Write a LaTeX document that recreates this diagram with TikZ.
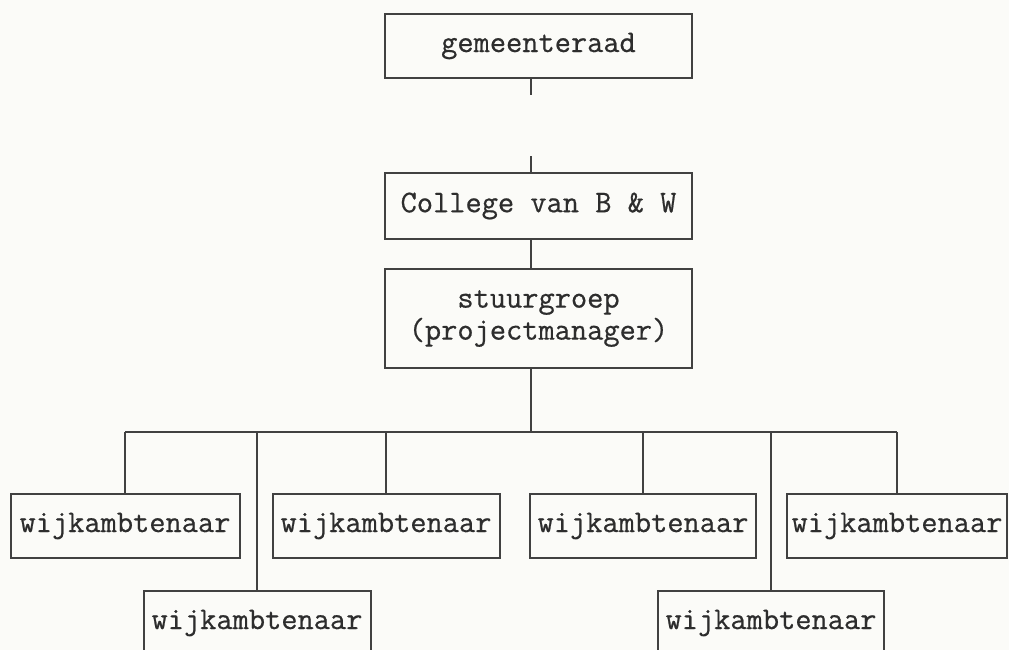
\documentclass[tikz,border=0pt]{standalone}
\usepackage{fontspec}
\newfontfamily\orgfont{Latin Modern Mono}[FakeBold=0.6]
\begin{document}
\begin{tikzpicture}[x=1pt,y=-1pt,
  line width=2pt,
  ink/.style={draw={rgb,255:red,65;green,65;blue,65}},
  orgbox/.style={ink, rectangle, inner sep=0pt, align=center,
    text={rgb,255:red,45;green,45;blue,45},
    font=\orgfont\fontsize{31.5}{32}\selectfont},
  link/.style={ink}]
\useasboundingbox[fill={rgb,255:red,251;green,251;blue,248}] (0,0) rectangle (1009,650);
% top levels
\node[orgbox, minimum width=307pt, minimum height=64pt] (gem) at (538.5,46) {gemeenteraad};
\node[orgbox, minimum width=307pt, minimum height=66pt] (col) at (538.5,206) {College van B \& W};
\node[orgbox, minimum width=307pt, minimum height=99pt] (stu) at (538.5,318.5) {stuurgroep\\(projectmanager)};
% wijkambtenaren
\node[orgbox, minimum width=229pt, minimum height=64pt] (w1) at (125,526) {wijkambtenaar};
\node[orgbox, minimum width=227pt, minimum height=64pt] (w2) at (386,526) {wijkambtenaar};
\node[orgbox, minimum width=226pt, minimum height=64pt] (w3) at (643,526) {wijkambtenaar};
\node[orgbox, minimum width=220pt, minimum height=64pt] (w4) at (897,526) {wijkambtenaar};
\node[orgbox, minimum width=227pt, minimum height=64pt] (w5) at (257,623) {wijkambtenaar};
\node[orgbox, minimum width=226pt, minimum height=64pt] (w6) at (771,623) {wijkambtenaar};
% spine coordinates
\coordinate (sp) at (531,432);
\coordinate (bl) at (125,432);
\coordinate (br) at (897,432);
% connectors
\draw[link] (gem.south -| sp) -- ++(0,16);
\draw[link] (col.north -| sp) -- ++(0,-16);
\draw[link] (col.south -| sp) -- (stu.north -| sp);
\draw[link] (stu.south -| sp) -- (sp);
\draw[link] (bl) -- (br);
\draw[link] (w1.north) -- (w1.north |- sp);
\draw[link] (w2.north) -- (w2.north |- sp);
\draw[link] (w3.north) -- (w3.north |- sp);
\draw[link] (w4.north) -- (w4.north |- sp);
\draw[link] (w5.north) -- (w5.north |- sp);
\draw[link] (w6.north) -- (w6.north |- sp);
\end{tikzpicture}
\end{document}
